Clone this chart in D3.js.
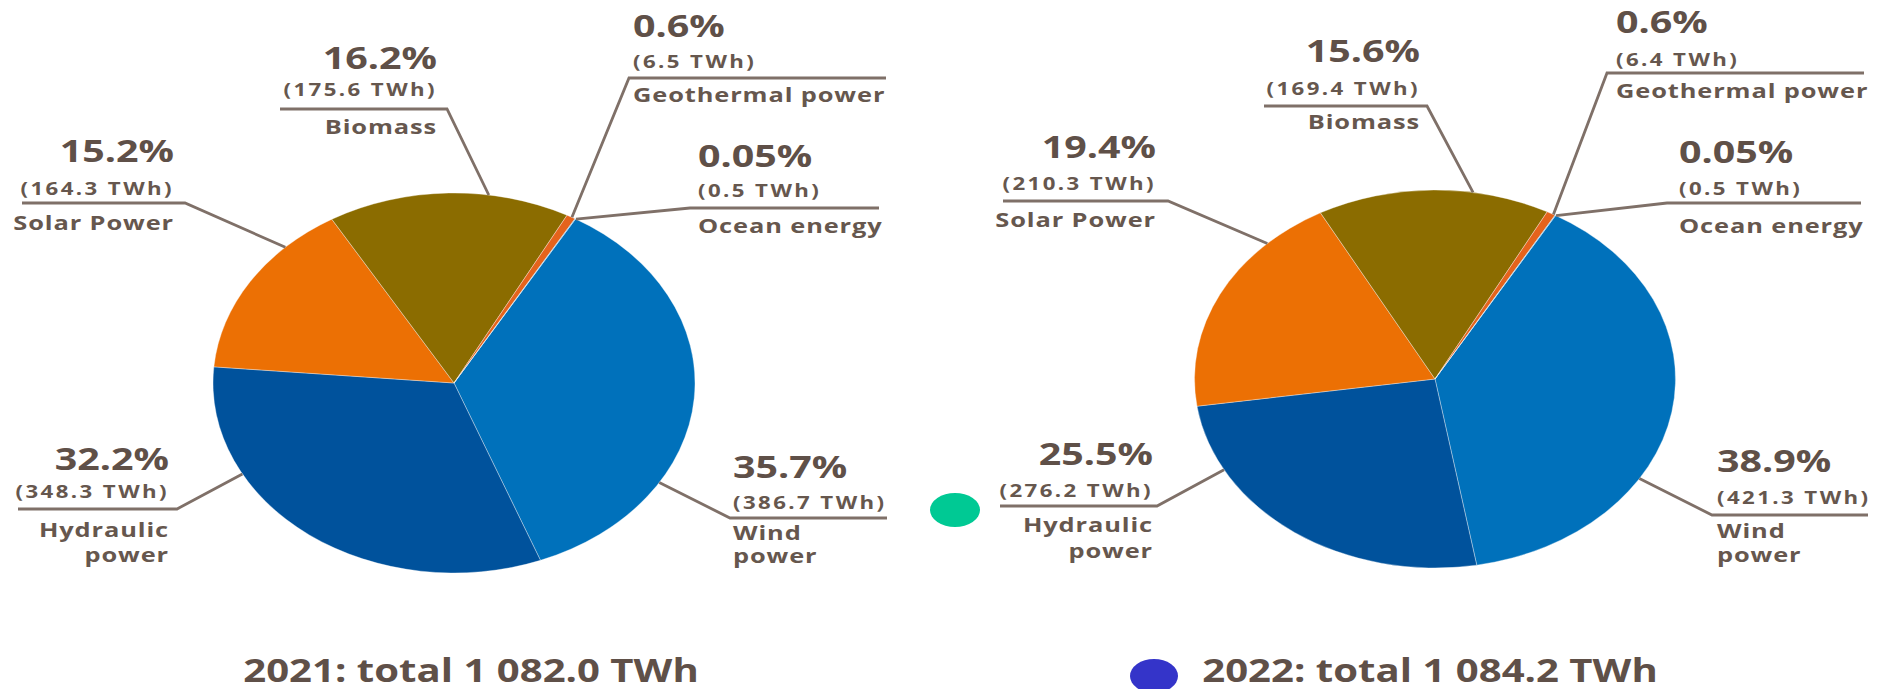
<!DOCTYPE html>
<html><head><meta charset="utf-8">
<script src="https://cdn.jsdelivr.net/npm/d3@7"></script>
<style>
html,body{margin:0;padding:0;background:#fff;}
svg{display:block;}
text{font-family:"Open Sans",sans-serif;font-weight:700;}
</style></head><body>
<svg id="chart" width="1881" height="689"></svg>
<script>
// ---------------- DATA ----------------
const categories = ["Wind power","Hydraulic power","Solar Power","Biomass","Geothermal power","Ocean energy"];
const nameLines  = [["Wind","power"],["Hydraulic","power"],["Solar Power"],["Biomass"],["Geothermal power"],["Ocean energy"]];
const years = ["2021","2022"];
const values2021 = [386.7, 348.3, 164.3, 175.6, 6.5, 0.5];
const values2022 = [421.3, 276.2, 210.3, 169.4, 6.4, 0.5];
const shares2021 = ["35.7%","32.2%","15.2%","16.2%","0.6%","0.05%"];
const shares2022 = ["38.9%","25.5%","19.4%","15.6%","0.6%","0.05%"];
const totals = [1082.0, 1084.2];

// ---------------- STYLE / LAYOUT ----------------
const colors = ["#0071bb","#00529c","#ec7004","#8b6c00","#e5631c","#4fa6dc"];
const SX = 1.27;               // horizontal stretch of the original artwork
const textDark = "#5f5048", textSmall = "#66574e", lineColor = "#7f7068";

const pies = [
  {cx:454,  cy:383, rx:241,   ry:190, start:30.3},
  {cx:1435, cy:379, rx:240.5, ry:189, start:30.1}
];
// label layout per year, in category order
const layouts = [
  [
    {anchor:"start", tx:733, pctY:478, twhY:509, lineY:518, outer:887, elbow:730, nameY:[540,563], angle:121.6},
    {anchor:"end",   tx:169, pctY:470, twhY:498, lineY:509, outer:18,  elbow:177, nameY:[537,562], angle:241.4},
    {anchor:"end",   tx:174, pctY:162, twhY:195, lineY:203, outer:22,  elbow:185, nameY:[230], angle:315.6},
    {anchor:"end",   tx:437, pctY:69,  twhY:96,  lineY:109, outer:280, elbow:447, nameY:[134], angle:8.3},
    {anchor:"start", tx:633, pctY:37,  twhY:68,  lineY:78,  outer:886, elbow:629, nameY:[102], angle:29.3},
    {anchor:"start", tx:698, pctY:167, twhY:197, lineY:208, outer:879, elbow:690, nameY:[233], angle:30.4}
  ],
  [
    {anchor:"start", tx:1717, pctY:472, twhY:504, lineY:515, outer:1868, elbow:1712, nameY:[538,562], angle:121.8},
    {anchor:"end",   tx:1153, pctY:465, twhY:497, lineY:506, outer:1000, elbow:1157, nameY:[532,558], angle:241.3},
    {anchor:"end",   tx:1156, pctY:158, twhY:190, lineY:201, outer:1003, elbow:1168, nameY:[227], angle:315.8},
    {anchor:"end",   tx:1420, pctY:62,  twhY:95,  lineY:106, outer:1264, elbow:1427, nameY:[129], angle:9.1},
    {anchor:"start", tx:1616, pctY:33,  twhY:66,  lineY:73,  outer:1864, elbow:1607, nameY:[98], angle:29.5},
    {anchor:"start", tx:1679, pctY:163, twhY:195, lineY:203, outer:1861, elbow:1667, nameY:[233], angle:30.2}
  ]
];
const titles = [{x:471, y:682},{x:1430, y:682}];

// ---------------- DRAW ----------------
const svg = d3.select("#chart");
const rad = d => d * Math.PI / 180;
const fmtTotal = v => {
  const s = v.toFixed(1);
  const [i, f] = s.split(".");
  return i.replace(/\B(?=(\d{3})+(?!\d))/g, " ") + "." + f;
};

function addText(g, str, x, y, anchor, size, fill, ls, sx) {
  g.append("text")
    .attr("transform", `translate(${x},${y}) scale(${sx || SX},1)`)
    .attr("text-anchor", anchor)
    .attr("font-size", size)
    .attr("letter-spacing", ls || 0)
    .attr("fill", fill)
    .text(str);
}

const allValues = [values2021, values2022];
const allShares = [shares2021, shares2022];

years.forEach((yr, yi) => {
  const p = pies[yi];
  const vals = allValues[yi];
  const pie = d3.pie().sort(null).value(d => d)
    .startAngle(rad(p.start)).endAngle(rad(p.start) + 2 * Math.PI);
  const arc = d3.arc().innerRadius(0).outerRadius(p.ry);
  const arcs = pie(vals);

  const g = svg.append("g").attr("class", "pie-" + yr);
  g.append("g")
    .attr("transform", `translate(${p.cx},${p.cy}) scale(${p.rx / p.ry},1)`)
    .selectAll("path").data(arcs).join("path")
    .attr("d", arc)
    .attr("fill", (d, i) => colors[i])
    .attr("stroke", "#ffffff").attr("stroke-opacity", 0.35)
    .attr("stroke-width", 1).attr("vector-effect", "non-scaling-stroke");

  // labels
  const lg = svg.append("g").attr("class", "labels-" + yr);
  layouts[yi].forEach((L, i) => {
    const a = rad(L.angle);
    const px = p.cx + p.rx * Math.sin(a);
    const py = p.cy - p.ry * Math.cos(a);
    lg.append("path")
      .attr("d", d3.line()([[L.outer, L.lineY], [L.elbow, L.lineY], [px, py]]))
      .attr("fill", "none").attr("stroke", lineColor)
      .attr("stroke-width", 2.8).attr("stroke-linejoin", "miter");
    addText(lg, allShares[yi][i], L.tx, L.pctY, L.anchor, 31, textDark, 0);
    addText(lg, "(" + vals[i].toFixed(1) + " TWh)", L.tx, L.twhY, L.anchor, 17.5, textSmall, 1.9);
    nameLines[i].forEach((ln, k) => addText(lg, ln, L.tx, L.nameY[k], L.anchor, 20, textSmall, 0.7));
  });

  addText(svg, yr + ": total " + fmtTotal(totals[yi]) + " TWh", titles[yi].x, titles[yi].y, "middle", 32.5, textDark, 0, 1.235);
});

// coloured markers present in the picture
svg.append("ellipse").attr("cx", 955).attr("cy", 510).attr("rx", 25).attr("ry", 17).attr("fill", "#00c994");
svg.append("ellipse").attr("cx", 1154).attr("cy", 676).attr("rx", 24).attr("ry", 17).attr("fill", "#3434c9");
</script>
</body></html>
